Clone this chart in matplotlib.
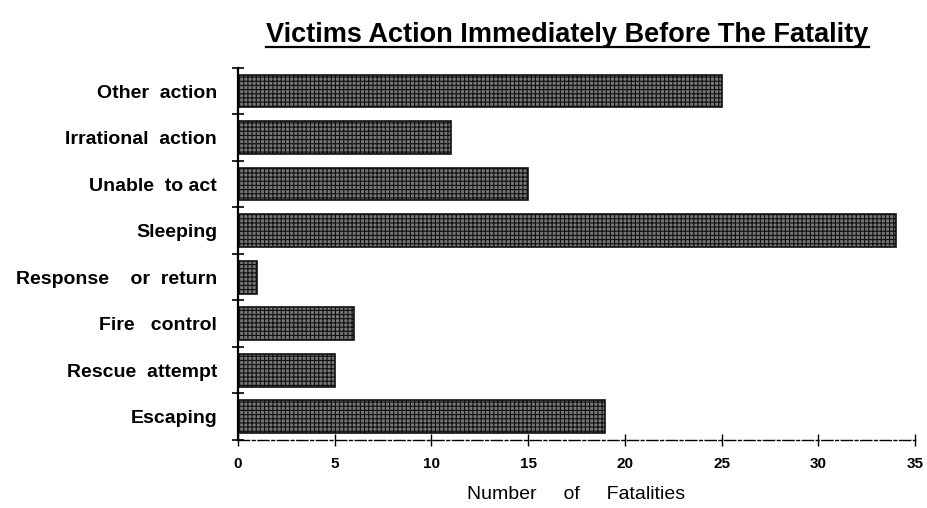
import numpy as np
import matplotlib.pyplot as plt

### DATA
actions = ['Escaping', 'Rescue  attempt', 'Fire   control', 'Response    or  return',
           'Sleeping', 'Unable  to act', 'Irrational  action', 'Other  action']
fatalities = [19, 5, 6, 1, 34, 15, 11, 25]
xticks = [0, 5, 10, 15, 20, 25, 30, 35]

plt.rcParams['font.family'] = ['Liberation Sans', 'DejaVu Sans']
plt.rcParams['hatch.linewidth'] = 0.8
plt.rcParams['hatch.color'] = '#1a1a1a'

### PLOT
fig = plt.figure(figsize=(9.27, 5.08), dpi=100)
ax = fig.add_axes([0.2567, 0.1339, 0.7303, 0.7323])

pos = np.arange(len(actions))
ax.barh(pos, fatalities, height=0.7, color='#767676', edgecolor='#111111',
        linewidth=1.2, hatch='++++')

ax.set_xlim(0, 35)
ax.set_ylim(-0.5, len(actions) - 0.5)

# labels sit in the middle of each band, tick marks on the band edges
ax.set_yticks(pos)
ax.set_yticklabels(actions, fontsize=14, fontweight='bold')
ax.set_yticks(np.arange(len(actions) + 1) - 0.5, minor=True)
ax.tick_params(axis='y', which='major', length=0, pad=15)
ax.tick_params(axis='y', which='minor', length=8, width=1.2, direction='inout')

ax.set_xticks(xticks)
ax.set_xticklabels([str(t) for t in xticks], fontsize=11, fontweight='bold')
ax.tick_params(axis='x', which='major', length=8, width=1.0, direction='inout', pad=8)

for s in ['top', 'right']:
    ax.spines[s].set_visible(False)
ax.spines['left'].set_linewidth(1.6)
ax.spines['bottom'].set_linewidth(1.0)
ax.spines['bottom'].set_linestyle((0, (8, 2, 2, 2)))

ax.set_xlabel('Number     of     Fatalities', fontsize=14, labelpad=11)

# underlined title
title = fig.text(0.612, 0.932, 'Victims Action Immediately Before The Fatality',
                 ha='center', va='center', fontsize=19.5, fontweight='bold')
fig.canvas.draw()
bb = title.get_window_extent().transformed(fig.transFigure.inverted())
fig.add_artist(plt.Line2D([bb.x0, bb.x1], [bb.y0 + 0.002, bb.y0 + 0.002],
                          transform=fig.transFigure, color='black', lw=1.6))

fig.savefig('out.png', dpi=100)
